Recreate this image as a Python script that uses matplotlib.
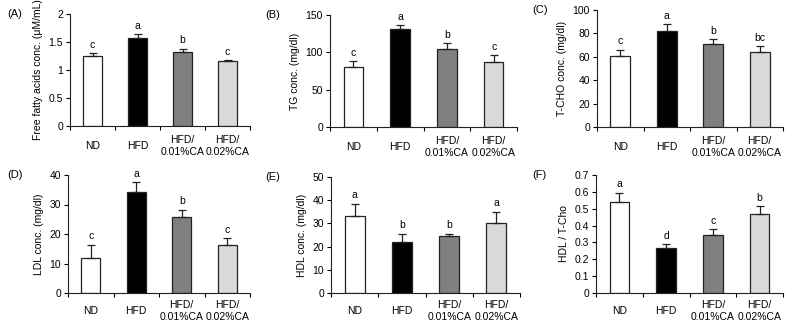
import matplotlib
matplotlib.use("Agg")
import matplotlib.pyplot as plt
import numpy as np

plt.rcParams['font.family'] = ['Liberation Sans', 'DejaVu Sans']

groups = ['ND', 'HFD', 'HFD/\n0.01%CA', 'HFD/\n0.02%CA']
bar_colors = ['white', 'black', '#808080', '#d9d9d9']

ffa = [1.25, 1.57, 1.32, 1.16]
ffa_err = [0.05, 0.07, 0.06, 0.01]
ffa_sig = ['c', 'a', 'b', 'c']

tg = [81, 131, 104, 87]
tg_err = [7, 6, 9, 10]
tg_sig = ['c', 'a', 'b', 'c']

tcho = [61, 82, 71, 64]
tcho_err = [5, 6, 4, 5]
tcho_sig = ['c', 'a', 'b', 'bc']

ldl = [11.8, 34.3, 25.7, 16.4]
ldl_err = [4.5, 3.3, 2.6, 2.1]
ldl_sig = ['c', 'a', 'b', 'c']

hdl = [33, 22, 24.5, 30]
hdl_err = [5.5, 3.5, 1.0, 5.0]
hdl_sig = ['a', 'b', 'b', 'a']

ratio = [0.54, 0.265, 0.345, 0.47]
ratio_err = [0.055, 0.025, 0.035, 0.045]
ratio_sig = ['a', 'd', 'c', 'b']

W, H = 790, 324
fig = plt.figure(figsize=(W / 100, H / 100), dpi=100)

# panel boxes in pixels: left, right, top, bottom
panels = [
    ('(A)', (70, 250, 14, 126), ffa, ffa_err, ffa_sig, 'Free fatty acids conc. (μM/mL)',
     [0, 0.5, 1, 1.5, 2], ['0', '0.5', '1', '1.5', '2'], 0.06),
    ('(B)', (330, 517, 15, 127), tg, tg_err, tg_sig, 'TG conc. (mg/dl)',
     [0, 50, 100, 150], None, 4),
    ('(C)', (597, 783, 10, 127), tcho, tcho_err, tcho_sig, 'T-CHO conc. (mg/dl)',
     [0, 20, 40, 60, 80, 100], None, 3),
    ('(D)', (68, 250, 175, 293), ldl, ldl_err, ldl_sig, 'LDL conc. (mg/dl)',
     [0, 10, 20, 30, 40], None, 1.2),
    ('(E)', (331, 520, 177, 293), hdl, hdl_err, hdl_sig, 'HDL conc. (mg/dl)',
     [0, 10, 20, 30, 40, 50], None, 1.5),
    ('(F)', (596, 783, 175, 293), ratio, ratio_err, ratio_sig, 'HDL / T-Cho',
     [0, 0.1, 0.2, 0.3, 0.4, 0.5, 0.6, 0.7], ['0', '0.1', '0.2', '0.3', '0.4', '0.5', '0.6', '0.7'], 0.02),
]

x = np.arange(len(groups))
for tag, (l, r, t, b), vals, errs, sig, ylab, yt, ytl, pad in panels:
    ax = fig.add_axes([l / W, (H - b) / H, (r - l) / W, (b - t) / H])
    ax.bar(x, vals, width=0.42, color=bar_colors, edgecolor='#222222', linewidth=0.9,
           yerr=[np.zeros(4), errs], error_kw=dict(ecolor='#222222', elinewidth=0.9, capsize=3, capthick=0.9))
    for xi, v, e, s in zip(x, vals, errs, sig):
        ax.text(xi, v + e + pad, s, ha='center', va='bottom', fontsize=7.5)
    ax.set_xlim(-0.5, 3.5)
    ax.set_ylim(yt[0], yt[-1])
    ax.set_yticks(yt)
    if ytl:
        ax.set_yticklabels(ytl)
    ax.set_xticks(x)
    ax.set_xticklabels(groups, fontsize=7.5, linespacing=1.25)
    for lbl in ax.get_xticklabels():
        lbl.set_va('center')
    ax.set_xticks(np.arange(-0.5, 4, 1), minor=True)
    xpad = 14.5 if t < 100 else 13
    ax.tick_params(axis='x', which='major', length=0, pad=xpad)
    ax.tick_params(axis='x', which='minor', length=3, width=0.8)
    ax.tick_params(axis='y', labelsize=7.5, length=3, width=0.8, pad=2)
    ax.set_ylabel(ylab, fontsize=7.5, labelpad=4)
    for side in ['top', 'right']:
        ax.spines[side].set_visible(False)
    for side in ['left', 'bottom']:
        ax.spines[side].set_linewidth(0.8)
        ax.spines[side].set_color('#222222')
    lx = 7 if l < 200 else (265 if l < 500 else 532)
    fig.text(lx / W, 1 - t / H, tag, fontsize=8, ha='left', va='center')

fig.savefig('out.png', dpi=100)
